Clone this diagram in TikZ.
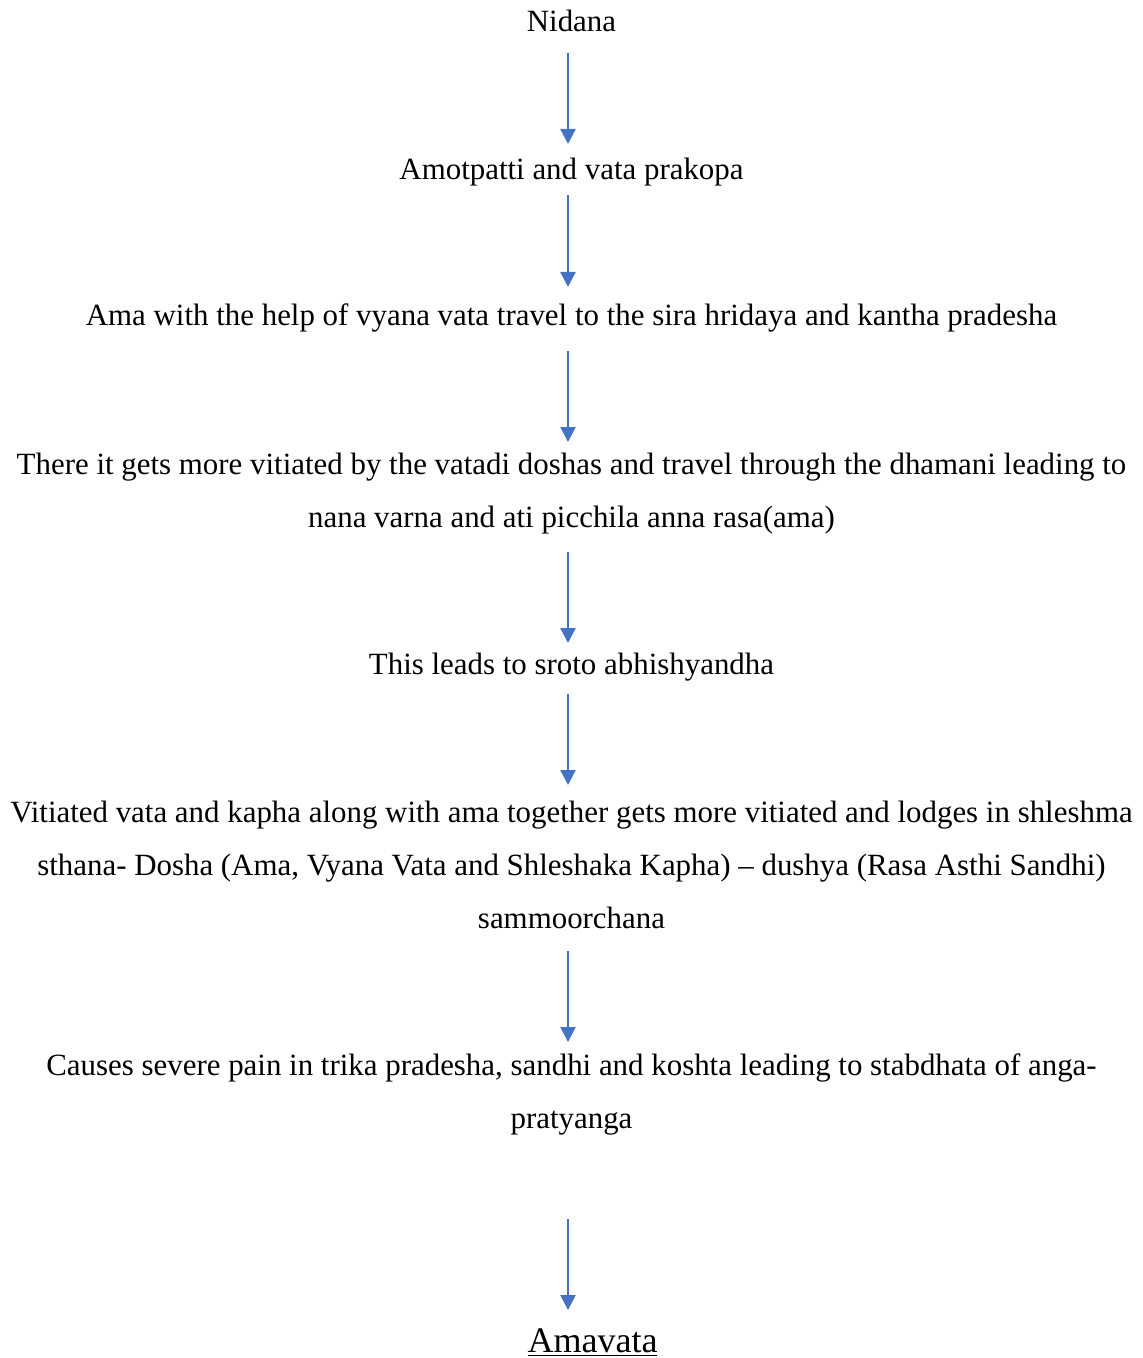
\documentclass[tikz,border=0pt]{standalone}
\usepackage{fontspec}
\setmainfont{Liberation Serif}
\usetikzlibrary{arrows.meta}
\definecolor{flowblue}{HTML}{4472C4}
\tikzset{
  stage/.style = {inner sep=0pt, align=center, anchor=base,
    font=\fontsize{15.45}{26.5}\selectfont},% one step of the pathway
  result/.style = {stage, font=\fontsize{18}{21}\selectfont},% final disease
  flow/.style = {draw=flowblue, line width=1.2pt,
    -{Triangle[length=7.5pt,width=7.5pt]}}
}

\begin{document}
\begin{tikzpicture}[x=0.5pt,y=-0.5pt]
\useasboundingbox (0,0) rectangle (1142,1358);

\node [stage] (nid) at (571.5,32) {Nidana};
\node [stage] (amo) at (571.5,180) {Amotpatti and vata prakopa};
\node [stage] (ama) at (571.5,326) {Ama with the help of vyana vata travel to the sira hridaya and kantha pradesha};
\node [stage] (dha) at (571.5,527) {There it gets more vitiated by the vatadi doshas and travel through the dhamani leading to\\
  nana varna and ati picchila anna rasa(ama)};
\node [stage] (sro) at (571.5,674) {This leads to sroto abhishyandha};
\node [stage] (vit) at (571.5,928) {Vitiated vata and kapha along with ama together gets more vitiated and lodges in shleshma\\
  sthana- Dosha (Ama, Vyana Vata and Shleshaka Kapha) -- dushya (Rasa Asthi Sandhi)\\
  sammoorchana};
\node [stage] (cau) at (571.5,1128) {Causes severe pain in trika pradesha, sandhi and koshta leading to stabdhata of anga-\\
  pratyanga};
\node [result] (amv) at (592.5,1352) {\underline{Amavata}};

\draw [flow] ([xshift=-1.75pt,yshift=-10.5pt]nid.base) -- ([xshift=-1.75pt,yshift=18pt]amo.base);
\draw [flow] ([xshift=-1.75pt,yshift=-7.5pt]amo.base) -- ([xshift=-1.75pt,yshift=19.5pt]ama.base);
\draw [flow] ([xshift=-1.75pt,yshift=-12.5pt]ama.base) -- ([xshift=-1.75pt,yshift=42.5pt]dha.base);
\draw [flow] ([xshift=-1.75pt,yshift=-12.5pt]dha.base) -- ([xshift=-1.75pt,yshift=15.5pt]sro.base);
\draw [flow] ([xshift=-1.75pt,yshift=-10pt]sro.base) -- ([xshift=-1.75pt,yshift=71.5pt]vit.base);
\draw [flow] ([xshift=-1.75pt,yshift=-11.5pt]vit.base) -- ([xshift=-1.75pt,yshift=43pt]cau.base);
\draw [flow] ([xshift=-1.75pt,yshift=-45.5pt]cau.base) -- ([xshift=-12.25pt,yshift=21pt]amv.base);
\end{tikzpicture}
\end{document}
